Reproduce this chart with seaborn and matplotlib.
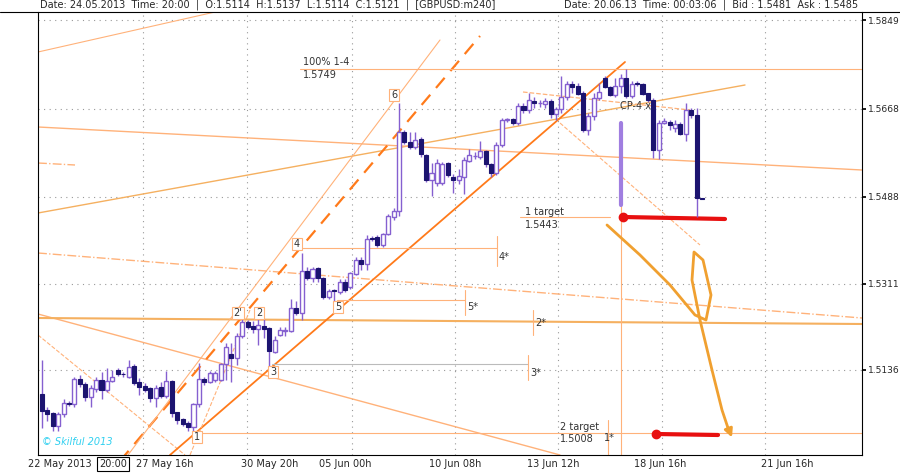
import numpy as np
import matplotlib
matplotlib.use("Agg")
import matplotlib.pyplot as plt
import seaborn as sns

# ---- data (GBPUSD H4) ----
opens = [1.5086,1.5053,1.5046,1.5020,1.5045,1.5067,1.5066,1.5116,1.5106,1.5080,1.5097,1.5114,1.5094,1.5113,1.5135,1.5127,1.5121,1.5142,1.5111,1.5102,
         1.5097,1.5077,1.5099,1.5082,1.5113,1.5048,1.5034,1.5026,1.5018,1.5065,1.5116,1.5111,1.5115,1.5115,1.5148,1.5167,1.5159,1.5204,1.5233,1.5225,
         1.5218,1.5225,1.5220,1.5172,1.5207,1.5215,1.5215,1.5261,1.5252,1.5337,1.5322,1.5342,1.5323,1.5284,1.5297,1.5295,1.5315,1.5305,1.5331,1.5360,
         1.5351,1.5403,1.5405,1.5389,1.5413,1.5448,1.5460,1.5621,1.5600,1.5590,1.5605,1.5573,1.5522,1.5516,1.5516,1.5556,1.5529,1.5522,1.5529,1.5561,
         1.5571,1.5570,1.5582,1.5555,1.5537,1.5594,1.5646,1.5646,1.5638,1.5673,1.5665,1.5684,1.5679,1.5678,1.5684,1.5658,1.5668,1.5691,1.5718,1.5713,
         1.5699,1.5624,1.5653,1.5689,1.5730,1.5711,1.5696,1.5714,1.5730,1.5694,1.5720,1.5718,1.5699,1.5685,1.5583,1.5638,1.5641,1.5628,1.5637,1.5617,
         1.5665,1.5655,1.5485]
closes = [1.5052,1.5045,1.5021,1.5045,1.5067,1.5066,1.5116,1.5106,1.5080,1.5099,1.5114,1.5094,1.5113,1.5121,1.5127,1.5126,1.5142,1.5109,1.5101,1.5095,
          1.5077,1.5099,1.5082,1.5113,1.5048,1.5033,1.5025,1.5018,1.5065,1.5116,1.5111,1.5128,1.5129,1.5147,1.5182,1.5159,1.5205,1.5233,1.5222,1.5218,
          1.5227,1.5218,1.5174,1.5197,1.5216,1.5216,1.5261,1.5252,1.5337,1.5322,1.5342,1.5322,1.5284,1.5297,1.5296,1.5315,1.5298,1.5332,1.5360,1.5351,
          1.5403,1.5402,1.5389,1.5413,1.5449,1.5460,1.5621,1.5600,1.5590,1.5605,1.5575,1.5522,1.5536,1.5558,1.5556,1.5532,1.5522,1.5530,1.5563,1.5573,
          1.5572,1.5582,1.5555,1.5537,1.5594,1.5646,1.5646,1.5638,1.5673,1.5665,1.5685,1.5679,1.5679,1.5684,1.5658,1.5668,1.5691,1.5718,1.5713,1.5699,
          1.5624,1.5653,1.5689,1.5702,1.5713,1.5696,1.5714,1.5730,1.5694,1.5719,1.5719,1.5699,1.5685,1.5583,1.5639,1.5643,1.5634,1.5637,1.5617,1.5666,
          1.5655,1.5485,1.5484]
highs = [1.5155,1.5060,1.5050,1.5050,1.5075,1.5072,1.5120,1.5125,1.5110,1.5105,1.5120,1.5130,1.5140,1.5135,1.5140,1.5131,1.5155,1.5148,1.5118,1.5108,
         1.5100,1.5105,1.5110,1.5133,1.5115,1.5050,1.5038,1.5030,1.5068,1.5150,1.5120,1.5133,1.5133,1.5150,1.5190,1.5190,1.5210,1.5240,1.5238,1.5235,
         1.5240,1.5240,1.5222,1.5205,1.5222,1.5222,1.5280,1.5275,1.5373,1.5345,1.5345,1.5345,1.5325,1.5300,1.5300,1.5320,1.5320,1.5335,1.5365,1.5365,
         1.5410,1.5408,1.5410,1.5415,1.5453,1.5465,1.5679,1.5625,1.5620,1.5620,1.5610,1.5575,1.5558,1.5565,1.5560,1.5560,1.5535,1.5545,1.5570,1.5585,
         1.5580,1.5602,1.5584,1.5558,1.5600,1.5650,1.5650,1.5650,1.5680,1.5680,1.5700,1.5692,1.5685,1.5690,1.5687,1.5672,1.5735,1.5725,1.5725,1.5720,
         1.5705,1.5660,1.5700,1.5720,1.5735,1.5715,1.5730,1.5738,1.5750,1.5725,1.5725,1.5720,1.5700,1.5690,1.5645,1.5650,1.5645,1.5645,1.5640,1.5680,
         1.5670,1.5670,1.5486]
lows = [1.5016,1.5030,1.5010,1.5010,1.5040,1.5062,1.5060,1.5100,1.5072,1.5060,1.5090,1.5075,1.5090,1.5110,1.5122,1.5120,1.5118,1.5105,1.5085,1.5090,
        1.5070,1.5060,1.5078,1.5078,1.5040,1.5025,1.5020,1.5010,1.5005,1.5060,1.5105,1.5108,1.5110,1.5112,1.5115,1.5110,1.5145,1.5200,1.5218,1.5210,
        1.5185,1.5200,1.5141,1.5170,1.5205,1.5205,1.5213,1.5248,1.5238,1.5318,1.5315,1.5315,1.5280,1.5280,1.5275,1.5290,1.5295,1.5300,1.5328,1.5340,
        1.5340,1.5398,1.5385,1.5385,1.5410,1.5440,1.5450,1.5597,1.5585,1.5585,1.5570,1.5518,1.5490,1.5510,1.5512,1.5528,1.5497,1.5515,1.5495,1.5560,
        1.5565,1.5565,1.5550,1.5528,1.5532,1.5590,1.5640,1.5635,1.5635,1.5660,1.5660,1.5670,1.5672,1.5670,1.5650,1.5645,1.5660,1.5685,1.5700,1.5695,
        1.5620,1.5615,1.5645,1.5685,1.5710,1.5693,1.5692,1.5700,1.5690,1.5690,1.5715,1.5695,1.5682,1.5567,1.5565,1.5637,1.5625,1.5620,1.5615,1.5602,
        1.5650,1.5447,1.5483]

price_ticks = [1.5136, 1.5311, 1.5488, 1.5668, 1.5849]
date_labels = ["22 May 2013", "20:00", "27 May 16h", "30 May 20h", "05 Jun 00h", "10 Jun 08h", "13 Jun 12h", "18 Jun 16h", "21 Jun 16h"]
date_pos = [3.3, 13.1, 22.7, 42.1, 56.0, 76.3, 94.5, 114.2, 137.7]

sns.set_theme(style="white")
W, H = 900, 474
fig = plt.figure(figsize=(9, 4.74), dpi=100)
fig.patch.set_facecolor("white")
L, R, T, B = 38, 862, 12, 455
ax = fig.add_axes([L / W, 1 - B / H, (R - L) / W, (B - T) / H])
x0, dx = 42, 5.41
p0, dp = 1.5849, 0.000204
def ix(x): return (x - x0) / dx
def pr(y): return p0 - (y - 20) * dp
ax.set_xlim(ix(L), ix(R))
ax.set_ylim(pr(B), pr(T))

o, c, h, l = map(np.array, (opens, closes, highs, lows))
idx = np.arange(len(o))
up = c >= o
PURPLE, NAVY = "#8560d0", "#1c1470"
ax.vlines(idx, l, h, color=PURPLE, lw=1, zorder=3)
ax.bar(idx[up], np.maximum(c[up] - o[up], 0.00008), bottom=o[up], width=0.75, color="white", edgecolor=PURPLE, lw=1, zorder=4)
ax.bar(idx[~up], o[~up] - c[~up] + 0.00004, bottom=c[~up], width=0.75, color=NAVY, edgecolor=NAVY, lw=0.8, zorder=4)

# grid
for x in [143, 247, 352, 455, 558, 662, 765]:
    ax.axvline(ix(x), color="#999999", ls=(0, (1, 4)), lw=0.8, zorder=0)
for p in price_ticks:
    ax.axhline(p, color="#999999", ls=(0, (1, 4)), lw=0.8, zorder=0)

OR, LOR, SAND = "#ff7a1a", "#ffb27a", "#f5b060"
def seg(pts, **kw):
    xs = [ix(p[0]) for p in pts]; ys = [pr(p[1]) for p in pts]
    ax.plot(xs, ys, **kw)

seg([(38, 52), (215, 12)], color=LOR, lw=0.8)
seg([(38, 213), (745, 85)], color=SAND, lw=1)
seg([(38, 127), (862, 170)], color=LOR, lw=1)
seg([(38, 163), (75, 165)], color=LOR, lw=1, ls="-.")
seg([(38, 253), (862, 318)], color=LOR, lw=1, ls="-.")
seg([(38, 314), (560, 455)], color=LOR, lw=1)
seg([(38, 335), (185, 455)], color=LOR, lw=0.8, ls="--")
seg([(38, 318), (862, 324)], color=SAND, lw=1.5)
seg([(120, 461), (480, 36)], color=OR, lw=1.6, ls=(0, (6, 4)))
seg([(170, 455), (625, 62)], color=OR, lw=1.3)
seg([(128, 455), (440, 40)], color=LOR, lw=0.8)
seg([(190, 455), (250, 310)], color=LOR, lw=0.8, ls="--")
seg([(560, 123), (700, 245)], color=LOR, lw=0.8, ls="--")
seg([(523, 92), (690, 110)], color=LOR, lw=0.9, ls="--")
seg([(300, 69), (862, 69)], color=LOR, lw=0.8)
seg([(520, 217), (610, 217)], color=LOR, lw=0.8)
seg([(195, 433), (862, 433)], color=LOR, lw=0.8)
seg([(300, 248), (497, 248)], color=LOR, lw=0.8)
seg([(497, 236), (497, 266)], color=LOR, lw=0.8)
seg([(337, 300), (465, 300)], color=LOR, lw=0.8)
seg([(465, 290), (465, 315)], color=LOR, lw=0.8)
seg([(272, 364), (528, 364)], color="#bbbbbb", lw=0.8)
seg([(528, 355), (528, 380)], color=LOR, lw=0.8)
seg([(533, 310), (533, 335)], color=LOR, lw=0.8)
seg([(608, 420), (608, 455)], color=LOR, lw=0.8)
seg([(621, 205), (621, 455)], color=LOR, lw=0.8)
seg([(621, 123), (621, 205)], color="#a07ee0", lw=3)

# red targets
seg([(623, 217), (725, 219)], color="#e81010", lw=3, solid_capstyle="round")
seg([(656, 434), (718, 435)], color="#e81010", lw=3, solid_capstyle="round")
ax.plot([ix(623), ix(656)], [pr(217), pr(434)], "o", color="#e81010", ms=6)

# curve arrow
curve = [(607, 225), (640, 255), (670, 285), (695, 315), (706, 320), (711, 295), (703, 260),
         (694, 252), (692, 280), (700, 320), (712, 370), (722, 410), (728, 428)]
seg(curve, color="#f0a030", lw=2)
ax.annotate("", xy=(ix(733), pr(440)), xytext=(ix(727), pr(425)),
            arrowprops=dict(arrowstyle="-|>", color="#f0a030", lw=2, mutation_scale=12))

fs = 7
def txt(x, y, s, **kw):
    ax.text(ix(x), pr(y), s, fontsize=fs, va="center", **kw)
box = dict(boxstyle="square,pad=0.15", fc="white", ec=LOR, lw=0.8)
for s, (x, y) in {"1": (197, 437), "2'": (238, 313), "2": (259, 313), "3": (273, 372),
                  "4": (297, 244), "5": (338, 307), "6": (394, 95)}.items():
    txt(x, y, s, ha="center", bbox=box, color="#333333")
txt(303, 62, "100% 1-4", color="#333333")
txt(303, 75, "1.5749", color="#333333")
txt(525, 212, "1 target", color="#333333")
txt(525, 225, "1.5443", color="#333333")
txt(560, 427, "2 target", color="#333333")
txt(560, 439, "1.5008", color="#333333")
txt(499, 257, "4*", color="#333333")
txt(467, 307, "5*", color="#333333")
txt(530, 373, "3*", color="#333333")
txt(535, 323, "2*", color="#333333")
txt(604, 438, "1*", color="#333333")
txt(620, 106, "CP-4 x", color="#333333")
txt(42, 442, "© Skilful 2013", color="#30d0f0", style="italic")

# axes styling
ax.spines["top"].set_visible(False)
for s in ["left", "right", "bottom"]:
    ax.spines[s].set_color("black"); ax.spines[s].set_linewidth(0.8)
ax.yaxis.tick_right()
ax.set_yticks(price_ticks)
ax.set_yticklabels([f"{p:.4f}" for p in price_ticks], fontsize=6.6)
ax.tick_params(axis="y", direction="out", length=3, color="black", pad=1.5)
ax.set_xticks(date_pos)
ax.set_xticklabels(date_labels, fontsize=fs)
ax.tick_params(axis="x", length=0, pad=3)
ax.get_xticklabels()[1].set_bbox(dict(boxstyle="square,pad=0.2", fc="white", ec="black", lw=0.8))

fig.add_artist(plt.Line2D([0, 1], [1 - 11.5 / H, 1 - 11.5 / H], color="black", lw=0.8))
fig.text(40 / W, 1 - 5 / H, "Date: 24.05.2013  Time: 20:00  |  O:1.5114  H:1.5137  L:1.5114  C:1.5121  |  [GBPUSD:m240]",
         fontsize=fs, va="center")
fig.text(858 / W, 1 - 5 / H, "Date: 20.06.13  Time: 00:03:06  |  Bid : 1.5481  Ask : 1.5485",
         fontsize=fs, va="center", ha="right")

fig.savefig("out.png", dpi=100)
